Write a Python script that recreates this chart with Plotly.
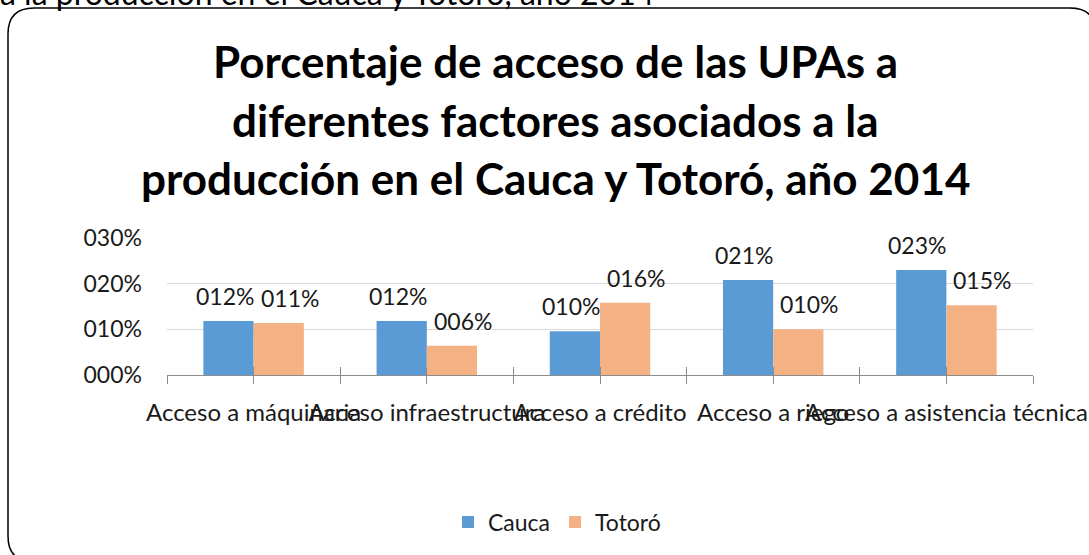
import plotly.graph_objects as go

categories = ["Acceso a máquinaria", "Acceso infraestructura", "Acceso a crédito",
              "Acceso a riego", "Acceso a asistencia técnica"]
cauca = [11.8, 11.8, 9.6, 20.8, 23.0]
totoro = [11.4, 6.4, 15.8, 10.0, 15.3]
ytick_vals = [0, 10, 20, 30]
ytick_text = ["000%", "010%", "020%", "030%"]
series_names = ["Cauca", "Totoró"]
title_lines = ["Porcentaje de acceso de las UPAs a",
               "diferentes factores asociados a la",
               "producción en el Cauca y Totoró, año 2014"]
top_text = "a la producción en el Cauca y Totoró, año 2014"

W, H = 1089, 555
ML, MR, MT, MB = 167, 56, 238, 180
PW, PH = W - ML - MR, H - MT - MB


def px_x(x):
    return (x - ML) / PW


def px_y(y):
    return 1 - (y - MT) / PH


FONT = "Lato"
FS = 23
TXT = "#1a1a1a"
colors = ["#5B9BD5", "#F4B183"]

fig = go.Figure()
for name, vals, col in zip(series_names, [cauca, totoro], colors):
    fig.add_trace(go.Bar(x=categories, y=vals, name=name, marker_color=col,
                         marker_line_width=0))

# helper empty traces so the tick-mark axes get drawn
for ax in ["x2", "x3"]:
    fig.add_trace(go.Scatter(x=[], y=[], xaxis=ax, yaxis="y", showlegend=False,
                             hoverinfo="skip"))

# data labels
for vals, xs in [(cauca, -29), (totoro, 36)]:
    for c, v in zip(categories, vals):
        fig.add_annotation(x=c, y=v, xref="x", yref="y", text=f"{round(v):03d}%",
                           showarrow=False, xshift=xs, yshift=25,
                           font=dict(family=FONT, size=FS, color=TXT))

# title lines
for i, line in enumerate(title_lines):
    fig.add_annotation(x=px_x(555), y=px_y(61 + 58.5 * i), xref="paper", yref="paper",
                       text=f"<b>{line}</b>", showarrow=False, xanchor="center",
                       yanchor="middle", font=dict(family=FONT, size=44, color="#000"))

# cut-off text at top
fig.add_annotation(x=px_x(-2), y=px_y(-8), xref="paper", yref="paper", text=top_text,
                   showarrow=False, xanchor="left", yanchor="middle",
                   font=dict(family=FONT, size=32, color="#000"))

# rounded frame
x0, x1 = px_x(8), px_x(1096)
y0, y1 = px_y(8), px_y(562)
rx, ry = 26 / PW, 26 / PH
path = (f"M {x0},{y1 + ry} L {x0},{y0 - ry} Q {x0},{y0} {x0 + rx},{y0} "
        f"L {x1 - rx},{y0} Q {x1},{y0} {x1},{y0 - ry} L {x1},{y1 + ry} "
        f"Q {x1},{y1} {x1 - rx},{y1} L {x0 + rx},{y1} Q {x0},{y1} {x0},{y1 + ry} Z")
fig.add_shape(type="path", path=path, xref="paper", yref="paper",
              line=dict(color="#000", width=1.5), layer="above")

tickaxis = dict(overlaying="x", anchor="y", range=[-0.5, 4.5], tick0=-0.5, dtick=0.5,
                tickmode="linear", ticklen=8, tickcolor="#8c8c8c", tickwidth=1,
                showticklabels=False, showgrid=False, zeroline=False, showline=False,
                fixedrange=True, automargin=False)

fig.update_layout(
    width=W, height=H,
    margin=dict(l=ML, r=MR, t=MT, b=MB, autoexpand=False),
    paper_bgcolor="white", plot_bgcolor="white",
    barmode="group", bargap=0.42, bargroupgap=0,
    font=dict(family=FONT, size=FS, color=TXT),
    showlegend=True,
    legend=dict(orientation="h", x=px_x(557), y=px_y(522), xanchor="center",
                yanchor="middle", font=dict(family=FONT, size=FS, color=TXT),
                itemwidth=30, tracegroupgap=0),
    xaxis=dict(type="category", showline=True, linecolor="#8c8c8c", linewidth=1,
               ticks="", tickangle=0, showgrid=False, ticklabelstandoff=16,
               automargin=False,
               tickfont=dict(family=FONT, size=24, color=TXT), fixedrange=True),
    xaxis2=dict(tickaxis, ticks="outside"),
    xaxis3=dict(tickaxis, ticks="inside"),
    yaxis=dict(range=[0, 30], tickvals=ytick_vals, ticktext=ytick_text,
               showgrid=True, gridcolor="#d9d9d9", gridwidth=1, zeroline=False,
               showline=False, ticks="", ticklabelstandoff=24, automargin=False,
               tickfont=dict(family=FONT, size=FS, color=TXT)),
)

fig.write_html("out.html", config={"displayModeBar": False},
               post_script="document.body.style.margin='0';")
